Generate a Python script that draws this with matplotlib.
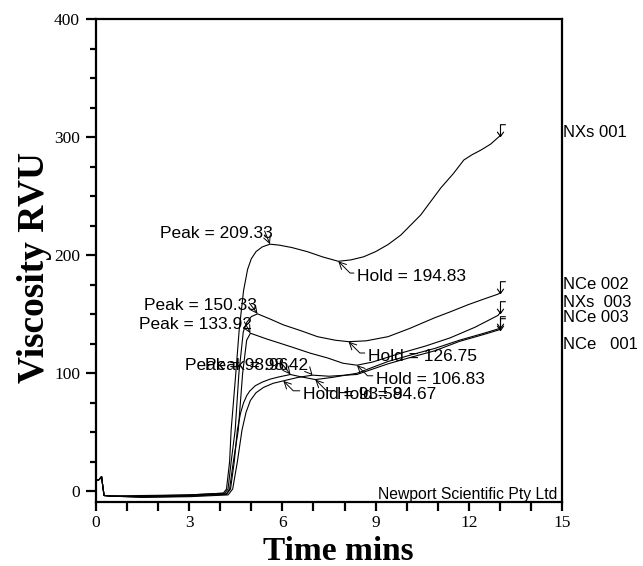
import matplotlib
matplotlib.use("Agg")
import matplotlib.pyplot as plt
from matplotlib.path import Path
from matplotlib.ticker import MultipleLocator

# ---------------- data ----------------
spike_x = [0.0, 0.1, 0.18, 0.22, 0.26, 0.5]
spike_y = [9.0, 10.0, 12.5, 4.0, -3.5, -4.0]

nxs001_x = spike_x + [1.5, 3.0, 4.1, 4.2, 4.3, 4.35, 4.5, 4.61, 4.75, 4.88, 5.0, 5.15,
                      5.35, 5.6, 5.9, 6.3, 6.8, 7.3, 7.8, 8.2, 8.61, 9.0, 9.4, 9.81,
                      10.45, 11.1, 11.5, 11.84, 12.1, 12.39, 12.7, 13.0]
nxs001_y = spike_y + [-3.5, -3.0, -1.5, 2, 25, 52, 100, 137, 170, 188, 197, 203,
                      207, 209.33, 208.5, 206.5, 203, 198.5, 194.83, 196, 198.6, 203, 209, 217,
                      234, 257, 269, 280.6, 285, 289, 294, 301]

nce002_x = spike_x + [1.5, 3.0, 4.15, 4.25, 4.35, 4.48, 4.6, 4.74, 4.85, 5.0, 5.2, 5.6,
                      6.03, 6.6, 7.13, 7.7, 8.13, 8.7, 9.4, 10.1, 10.9, 11.4, 11.97,
                      12.5, 12.94, 13.0]
nce002_y = spike_y + [-4.0, -3.0, -1.5, 2, 25, 52, 100, 135, 143, 148, 150.33, 146,
                      141, 136, 131, 128, 126.75, 127.5, 131, 138, 147, 152, 158,
                      163, 167, 168]

nxs003_x = spike_x + [1.5, 3.0, 4.2, 4.3, 4.42, 4.58, 4.72, 4.85, 4.97, 5.5, 6.26,
                      6.9, 7.45, 7.95, 8.4, 8.9, 9.8, 10.6, 11.4, 12.2, 12.94, 13.0]
nxs003_y = spike_y + [-4.5, -3.5, -2.0, 2, 25, 52, 100, 128, 133.92, 129, 122.6,
                      117, 113, 108.5, 106.83, 109.5, 117, 123, 130, 139, 149, 151]

nce003_x = spike_x + [1.5, 3.0, 4.2, 4.33, 4.45, 4.55, 4.65, 4.75, 4.85, 4.95, 5.13,
                      5.35, 5.6, 5.9, 6.26, 6.6, 7.06, 7.6, 8.4, 9.4, 10.2, 10.9,
                      11.7, 12.5, 13.0]
nce003_y = spike_y + [-5.0, -4.0, -2.5, 2, 25, 52, 66, 75, 81, 85, 89.5,
                      92.5, 95, 97, 98.96, 97, 94.67, 96.5, 100, 110, 116, 121,
                      128, 134, 138]

nce001_x = spike_x + [1.5, 3.0, 4.25, 4.4, 4.55, 4.7, 4.83, 4.97, 5.15, 5.39, 5.7,
                      6.03, 6.5, 6.97, 7.5, 8.4, 9.4, 10.2, 10.9, 11.7, 12.5, 13.0]
nce001_y = spike_y + [-5.0, -4.5, -3.0, 2, 25, 52, 67, 77, 83.5, 88, 91.5,
                      93.58, 96.5, 98.42, 97.5, 99, 108, 114, 119, 127, 133, 137]

series_x = [nxs001_x, nce002_x, nxs003_x, nce003_x, nce001_x]
series_y = [nxs001_y, nce002_y, nxs003_y, nce003_y, nce001_y]

right_labels = ["NXs 001", "NCe 002", "NXs  003", "NCe 003", "NCe   001"]
right_label_y = [304, 175, 160, 147, 124]

# peak annotations: label, point (x, y), text position (x, y)
peak_labels = ["Peak = 209.33", "Peak = 150.33", "Peak = 133.92", "Peak = 98.96", "Peak = 98.42"]
peak_pts = [(5.6, 209.33), (5.2, 150.33), (4.97, 133.92), (6.26, 98.96), (6.97, 98.42)]
peak_txt = [(5.68, 218), (5.19, 157), (5.03, 141), (6.19, 106.5), (6.84, 106.5)]

hold_labels = ["Hold = 194.83", "Hold = 126.75", "Hold = 106.83", "Hold = 93.58", "Hold = 94.67"]
hold_pts = [(7.8, 194.83), (8.13, 126.75), (8.4, 106.83), (6.03, 93.58), (7.06, 94.67)]
hold_txt = [(8.39, 181.7), (8.74, 114), (9.0, 94.7), (6.65, 82), (7.77, 82)]

x_ticks = [0, 3, 6, 9, 12, 15]
y_ticks = [0, 100, 200, 300, 400]

# ---------------- figure ----------------
fig = plt.figure(figsize=(6.43, 5.66), dpi=100)
ax = fig.add_axes([96 / 643, 1 - 502 / 566, (562 - 96) / 643, (502 - 19) / 566])

for xs, ys in zip(series_x, series_y):
    ax.plot(xs, ys, color="black", lw=0.8)

# end flags
flag = Path([(0, 0), (-0.28, 0.4), (0, 0), (0.28, 0.4), (0, 0), (0, 1), (0.45, 1)],
            [Path.MOVETO, Path.LINETO, Path.MOVETO, Path.LINETO, Path.MOVETO,
             Path.LINETO, Path.LINETO])
for xs, ys in zip(series_x, series_y):
    ax.plot([xs[-1]], [ys[-1]], marker=flag, markersize=17, markerfacecolor="none",
            markeredgecolor="black", markeredgewidth=0.8, linestyle="none")

for lab, pt, tp in zip(peak_labels, peak_pts, peak_txt):
    ax.annotate(lab, xy=pt, xytext=tp, ha="right", va="center",
                family="Liberation Sans", fontsize=12.5,
                arrowprops=dict(arrowstyle="->", lw=0.7, color="black",
                                relpos=(0.93, 0.7), shrinkA=0, shrinkB=0))
for lab, pt, tp in zip(hold_labels, hold_pts, hold_txt):
    ax.annotate(lab, xy=pt, xytext=tp, ha="left", va="center",
                family="Liberation Sans", fontsize=12.5,
                arrowprops=dict(arrowstyle="->", lw=0.7, color="black",
                                relpos=(0.0, 0.75), shrinkA=0, shrinkB=0,
                                connectionstyle="angle,angleA=0,angleB=135,rad=0"))

for lab, yv in zip(right_labels, right_label_y):
    ax.text(1.003, yv, lab, transform=ax.get_yaxis_transform(), ha="left", va="center",
            family="Liberation Sans", fontsize=12, clip_on=False)

ax.text(0.991, 0.006, "Newport Scientific Pty Ltd", transform=ax.transAxes,
        ha="right", va="baseline", family="Liberation Sans", fontsize=11.3)

ax.set_xlim(0, 15)
ax.set_ylim(-9, 400)
ax.set_xticks(x_ticks)
ax.set_yticks(y_ticks)
ax.xaxis.set_minor_locator(MultipleLocator(1))
ax.yaxis.set_minor_locator(MultipleLocator(25))
ax.tick_params(axis="both", which="both", direction="out", width=1.6, color="black")
ax.tick_params(axis="x", which="major", length=6.5, pad=3)
ax.tick_params(axis="x", which="minor", length=6.5)
ax.tick_params(axis="y", which="major", length=7.5, pad=4)
ax.tick_params(axis="y", which="minor", length=4.5)
for lbl in ax.get_xticklabels() + ax.get_yticklabels():
    lbl.set_family("Liberation Serif")
    lbl.set_fontsize(12.5)
for sp in ax.spines.values():
    sp.set_linewidth(1.6)

ax.set_xlabel("Time mins", family="Liberation Serif", fontweight="bold", fontsize=24)
ax.xaxis.set_label_coords(0.519, -0.07)
ax.set_ylabel("Viscosity RVU", family="Liberation Serif", fontweight="bold", fontsize=27)
ax.yaxis.set_label_coords(-0.133, 0.485)
ax.yaxis.label.set_va("center")

fig.savefig("out.png", dpi=100)
